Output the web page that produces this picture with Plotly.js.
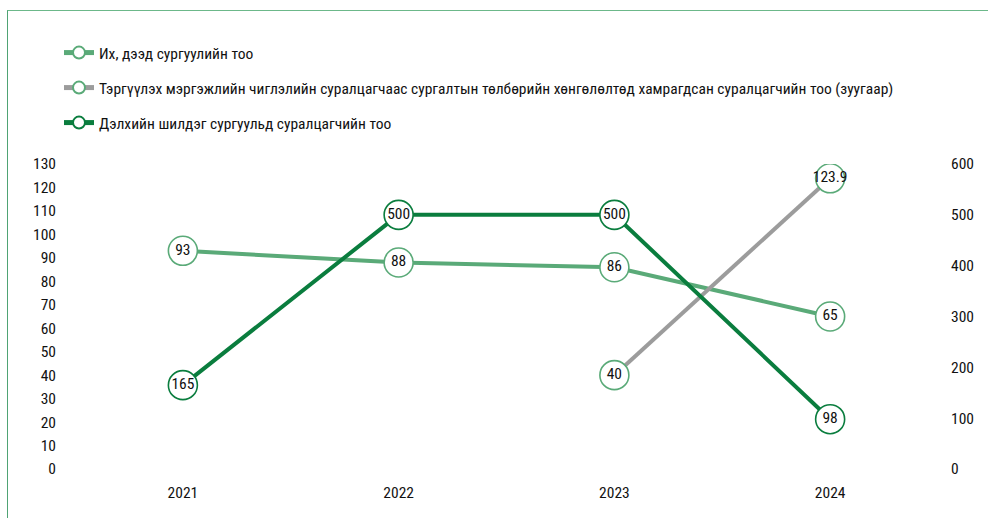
<!DOCTYPE html>
<html><head><meta charset="utf-8">
<script src="https://cdn.plot.ly/plotly-3.0.1.min.js"></script>
<style>
html,body{margin:0;padding:0;background:#fff;}
#wrap{position:relative;width:988px;height:518px;}
#border{position:absolute;left:7px;top:10px;right:0;bottom:0;border-top:1.6px solid #6cb88a;border-left:1.6px solid #4fa374;pointer-events:none;}
#chart{position:absolute;left:0;top:0;width:988px;height:518px;}
</style></head>
<body><div id="wrap"><div id="chart"></div><div id="border"></div></div>
<script>
const years = ['2021','2022','2023','2024'];
const universities = [93, 88, 86, 65];
const discountStudents = [null, null, 40, 123.9];
const topSchoolStudents = [165, 500, 500, 98];
const names = [
  'Их, дээд сургуулийн тоо',
  'Тэргүүлэх мэргэжлийн чиглэлийн суралцагчаас сургалтын төлбөрийн хөнгөлөлтөд хамрагдсан суралцагчийн тоо (зуугаар)',
  'Дэлхийн шилдэг сургуульд суралцагчийн тоо'
];
const leftTicks = [0,10,20,30,40,50,60,70,80,90,100,110,120,130];
const rightTicks = [0,100,200,300,400,500,600];

const FONT = 'Liberation Sans Narrow, Roboto Condensed, Arial Narrow, sans-serif';
const lightGreen = '#5aaa78';
const darkGreen = '#0a7d3e';
const gray = '#9c9c9c';

function lineTrace(y, name, color, mColor, yaxis, legend){
  return {x: years, y: y, name: name, type:'scatter', mode:'lines+markers', yaxis: yaxis,
    legend: legend, connectgaps:false,
    line:{color: color, width:4},
    marker:{size:29, color:'#ffffff', line:{color:mColor, width:1.6}},
    hoverinfo:'skip'};
}
function textTrace(y, yaxis){
  return {x: years, y: y, type:'scatter', mode:'text', yaxis: yaxis, showlegend:false,
    text: y.map(v => v==null ? '' : String(v)), textposition:'middle center',
    textfont:{family:FONT, size:15.5, color:'#111'}, hoverinfo:'skip'};
}
const data = [
  lineTrace(universities, names[0], lightGreen, lightGreen, 'y', 'legend'),
  lineTrace(discountStudents, names[1], gray, lightGreen, 'y', 'legend2'),
  textTrace(universities, 'y'),
  textTrace(discountStudents, 'y'),
  lineTrace(topSchoolStudents, names[2], darkGreen, darkGreen, 'y2', 'legend3'),
  textTrace(topSchoolStudents, 'y2')
];
function leg(yPix){
  return {xref:'container', yref:'container', x:59/988, y:1-yPix/518, xanchor:'left', yanchor:'middle',
    bgcolor:'rgba(0,0,0,0)', itemsizing:'constant', font:{family:FONT, size:15.5, color:'#111'},
    itemclick:false, itemdoubleclick:false};
}
const layout = {
  width:988, height:518,
  margin:{l:75, r:50, t:164, b:49, autoexpand:false},
  paper_bgcolor:'#fff', plot_bgcolor:'#fff',
  font:{family:FONT, size:15.5, color:'#111'},
  showlegend:true,
  legend: leg(53), legend2: leg(88), legend3: leg(123),
  xaxis:{type:'category', range:[-0.5,3.5], showgrid:false, zeroline:false, showline:false, automargin:false,
    ticks:'', tickfont:{family:FONT, size:15.5, color:'#111'}, ticklabelstandoff:12},
  yaxis:{range:[0,130], tickvals:leftTicks, showgrid:false, zeroline:false, showline:false, automargin:false,
    ticks:'', tickfont:{family:FONT, size:15.5, color:'#111'}, ticklabelstandoff:18, fixedrange:true},
  yaxis2:{range:[0,600], tickvals:rightTicks, overlaying:'y', side:'right', showgrid:false, zeroline:false, automargin:false,
    showline:false, ticks:'', tickfont:{family:FONT, size:15.5, color:'#111'}, ticklabelstandoff:12},
  hovermode:false
};
Plotly.newPlot('chart', data, layout, {displayModeBar:false, staticPlot:true});
</script></body></html>
